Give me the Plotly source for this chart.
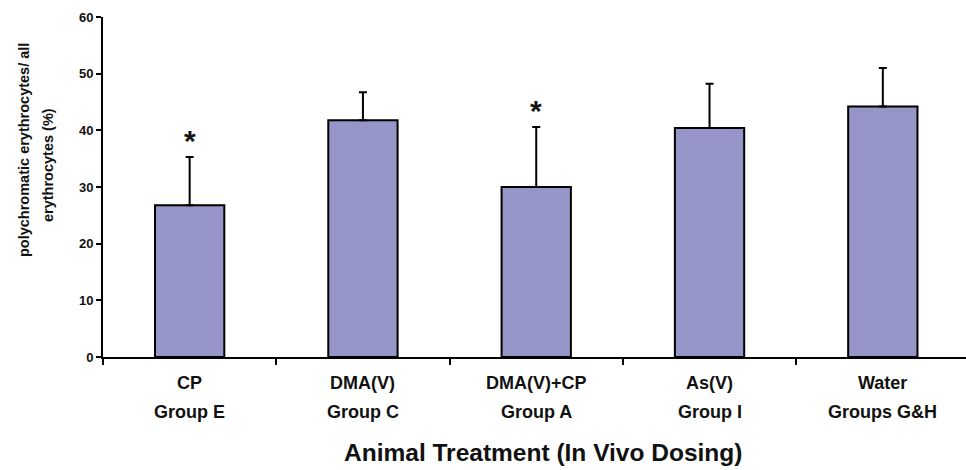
import plotly.graph_objects as go

treatments = ["CP", "DMA(V)", "DMA(V)+CP", "As(V)", "Water"]
groups = ["Group E", "Group C", "Group A", "Group I", "Groups G&H"]
means = [26.8, 41.8, 30.0, 40.4, 44.2]
sd = [8.5, 4.9, 10.6, 7.8, 6.8]
significant = [True, False, True, False, False]
y_ticks = [0, 10, 20, 30, 40, 50, 60]

FONT = "Liberation Sans, Arial, sans-serif"
BAR_COLOR = "#9595C8"

fig = go.Figure()
fig.add_trace(go.Bar(
    x=treatments,
    y=means,
    width=0.4,
    marker=dict(color=BAR_COLOR, line=dict(color="black", width=2)),
    error_y=dict(type="data", symmetric=False, array=sd,
                 arrayminus=[0] * len(sd), color="black",
                 thickness=2, width=4),
    showlegend=False,
    hoverinfo="skip",
))

annotations = []
for t, g in zip(treatments, groups):
    annotations.append(dict(x=t, xref="x", y=-0.077, yref="paper",
                            text=t, showarrow=False, yanchor="middle",
                            font=dict(family=FONT, size=18, color="#111", weight="bold")))
    annotations.append(dict(x=t, xref="x", y=-0.162, yref="paper",
                            text=g, showarrow=False, yanchor="middle",
                            font=dict(family=FONT, size=18, color="#111", weight="bold")))

for t, m, s, sig in zip(treatments, means, sd, significant):
    if sig:
        annotations.append(dict(x=t, xref="x", y=m + s, yref="y", text="*",
                                showarrow=False, yanchor="middle", yshift=16,
                                font=dict(family=FONT, size=30, color="#111", weight="bold")))

# x-axis title
annotations.append(dict(x=0.51, xref="paper", y=-0.28, yref="paper",
                        text="Animal Treatment (In Vivo Dosing)", showarrow=False,
                        yanchor="middle",
                        font=dict(family=FONT, size=24.5, color="#111", weight="bold")))
# y-axis title (two lines)
annotations.append(dict(x=(24 - 103) / 863, xref="paper", y=(357 - 150) / 340, yref="paper",
                        text="polychromatic erythrocytes/ all", showarrow=False,
                        textangle=-90, xanchor="center", yanchor="middle",
                        font=dict(family=FONT, size=14.5, color="#111", weight="bold")))
annotations.append(dict(x=(48 - 103) / 863, xref="paper", y=(357 - 165) / 340, yref="paper",
                        text="erythrocytes (%)", showarrow=False,
                        textangle=-90, xanchor="center", yanchor="middle",
                        font=dict(family=FONT, size=14.5, color="#111", weight="bold")))

fig.update_layout(
    width=966, height=470,
    margin=dict(l=103, r=0, t=17, b=113),
    paper_bgcolor="white", plot_bgcolor="white",
    annotations=annotations,
    hovermode=False,
    xaxis=dict(range=[-0.5, 4.48], showline=True, linecolor="black", linewidth=2,
               ticks="outside", tickson="boundaries", ticklen=6, tickwidth=2,
               tickcolor="black", showticklabels=False, showgrid=False, zeroline=False),
    yaxis=dict(range=[0, 60], tickvals=y_ticks, showline=True, linecolor="black",
               linewidth=2, ticks="outside", ticklen=5, tickwidth=2, tickcolor="black",
               showgrid=False, zeroline=False,
               tickfont=dict(family=FONT, size=13, color="#111", weight="bold")),
)

fig.write_html("out.html", config={"displayModeBar": False},
               post_script="document.body.style.margin='0';document.body.style.overflow='hidden';")
